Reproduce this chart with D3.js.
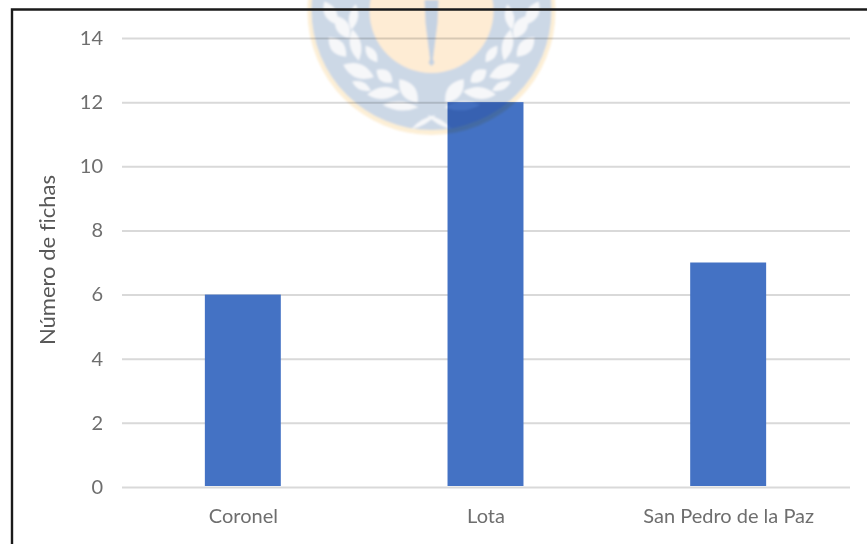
<!DOCTYPE html>
<html lang="es">
<head>
<meta charset="utf-8">
<script src="https://cdn.jsdelivr.net/npm/d3@7"></script>
<style>
  html, body { margin: 0; padding: 0; background: #fff; }
  svg { display: block; }
  text { font-family: Lato, "Open Sans", sans-serif; fill: #6a6a6a; font-variant-ligatures: none; }
</style>
</head>
<body>
<svg id="chart" width="867" height="544"></svg>
<script>
// Fichas registradas por comuna
const comunas = ["Coronel", "Lota", "San Pedro de la Paz"];
const fichas = [6, 12, 7];
const yTicks = [0, 2, 4, 6, 8, 10, 12, 14];
const yTitle = "Número de fichas";

// One branch of the crest's laurel: offset x, offset y, length, width, tilt
const laurelBranch = [
  [-101, 2, 26, 12, 62], [-89, 16, 26, 13, 60], [-78, 6, 26, 9, 100],
  [-94, 36, 26, 13, 48], [-76, 34, 32, 11, 78], [-60, 43, 20, 9, 55],
  [-73, 60, 33, 14, 22], [-47, 65, 20, 12, 38], [-70, 75, 21, 8, 25],
  [-48, 82, 33, 12, -5], [-23, 80, 30, 14, 52], [-31, 95, 36, 9, 4],
  [-8, 111, 28, 5, -30]
];

const svg = d3.select("#chart");
const margin = { top: 38, right: 17, bottom: 57, left: 122 };
const width = +svg.attr("width");
const height = +svg.attr("height");

const x = d3.scaleBand()
  .domain(comunas)
  .range([margin.left, width - margin.right])
  .paddingInner(0.687)
  .paddingOuter(0.3435);

const y = d3.scaleLinear()
  .domain([0, 14])
  .range([height - margin.bottom, margin.top]);

// Horizontal gridlines and value labels
const yAxis = svg.append("g")
  .attr("transform", `translate(${margin.left},0)`)
  .call(d3.axisLeft(y).tickValues(yTicks).tickSize(-(width - margin.left - margin.right)).tickPadding(19));
yAxis.select(".domain").remove();
yAxis.selectAll(".tick line").attr("stroke", "#d9d9d9").attr("stroke-width", 2);
yAxis.selectAll(".tick text").attr("font-size", 20).style("fill", "#6e6e6e");

// Bars
svg.append("g").selectAll("rect")
  .data(fichas)
  .join("rect")
  .attr("x", (d, i) => x(comunas[i]) - 0.5)
  .attr("y", d => y(d))
  .attr("width", x.bandwidth())
  .attr("height", d => y(0) - y(d) - 1)
  .attr("fill", "#4472c4");

// Category labels
const xAxis = svg.append("g")
  .attr("transform", `translate(0,${height - margin.bottom})`)
  .call(d3.axisBottom(x).tickSize(0).tickPadding(22));
xAxis.select(".domain").remove();
xAxis.selectAll(".tick text").attr("font-size", 20).style("fill", "#6e6e6e");

// Axis title
svg.append("text")
  .attr("transform", "translate(55,260) rotate(-90)")
  .attr("text-anchor", "middle")
  .attr("font-size", 22)
  .style("fill", "#585858")
  .text(yTitle);

// University crest laid over the plot as a translucent seal
const soft = svg.append("defs").append("filter").attr("id", "soft");
soft.append("feGaussianBlur").attr("stdDeviation", 0.8);

const crest = svg.append("g")
  .attr("transform", "translate(431.5,11)")
  .attr("filter", "url(#soft)")
  .style("mix-blend-mode", "multiply");

crest.append("circle").attr("r", 124).attr("fill", "#fdefd6");
crest.append("circle").attr("r", 120).attr("cy", -1).attr("fill", "#ccd8e6");

// Pointed leaf outline centred on the origin, mirrored for the right-hand branch
const leafPath = d => `M${-d[2] / 2},0 Q0,${-d[3]} ${d[2] / 2},0 Q0,${d[3]} ${-d[2] / 2},0 Z`;
[1, -1].forEach(side => {
  crest.append("g")
    .attr("transform", `scale(${side},1)`)
    .selectAll("path")
    .data(laurelBranch)
    .join("path")
    .attr("d", leafPath)
    .attr("transform", d => `translate(${d[0]},${d[1]}) rotate(${d[4]})`)
    .attr("fill", "#f6f7f9");
});

crest.append("circle").attr("r", 62).attr("fill", "#feecd4");
crest.append("path")
  .attr("d", "M-7,-11 L7,-11 L6,12 L1.5,48 L3,52 L0,55 L-3,52 L-1.5,48 L-6,12 Z")
  .attr("fill", "#c5d2e2");

// Black border of the framed figure, open at the right and bottom edges
svg.append("path")
  .attr("d", `M12,${height} V9.5 H${width}`)
  .attr("fill", "none")
  .attr("stroke", "#1a1a1a")
  .attr("stroke-width", 2.4);
</script>
</body>
</html>
